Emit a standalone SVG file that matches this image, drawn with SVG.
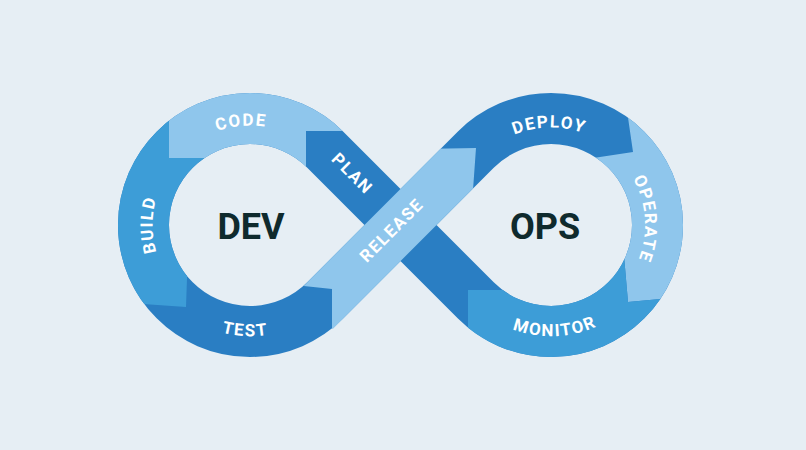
<svg xmlns="http://www.w3.org/2000/svg" xmlns:xlink="http://www.w3.org/1999/xlink" width="806" height="450" viewBox="0 0 806 450">
<defs>
<style>
.band{fill:none;stroke-width:51}
.dark{stroke:#2a7ec3}
.mid{stroke:#3d9dd7}
.light{stroke:#8fc6ec}
.lbl{font-family:Roboto,"Liberation Sans",sans-serif;font-weight:700;font-size:17px;letter-spacing:1.6px;fill:#ffffff}
.big{font-family:Roboto,"Liberation Sans",sans-serif;font-weight:700;font-size:36px;fill:#0f2a2d;text-anchor:middle}
</style>
<path id="loop" d="M325.3,149.7 A106.5,106.5 0 1 0 325.3,300.3 L475.7,149.7 A106.5,106.5 0 1 1 475.7,300.3 Z"/>
<clipPath id="cBuild"><path d="M169,100 L169,158 L215,158 L188,250 L186,307 L100,301 L100,100 Z"/></clipPath>
<clipPath id="cCode"><path d="M169,158 L169,60 L380,60 L380,131 L306,131 L306,200 L230,200 L215,158 Z"/></clipPath>
<clipPath id="cOperate"><path d="M633,152 L624,90 L720,90 L720,293.4 L628,302 L621.8,230 L590,200 L590,158.5 Z"/></clipPath>
<clipPath id="cMonitor"><path d="M468,290 L520,290 L621.8,230 L628,302 L720,293.4 L720,400 L468,400 Z"/></clipPath>
<clipPath id="cRelease"><path d="M332,289 L285,284 L420,149 L476,148 L473,190 L471,215 L345,340 L332,340 Z"/></clipPath>
<path id="tCode" d="M168.6,168 A99.5,99.5 0 0 1 320.4,154.6"/>
<path id="tBuild" d="M187.3,299.7 A97.5,97.5 0 0 1 187.3,150.3"/>
<path id="tTest" d="M161.8,292.7 A111.2,111.2 0 0 0 332,300.1"/>
<path id="tDeploy" d="M475.1,163.8 A97.5,97.5 0 0 1 624.6,161"/>
<path id="tOperate" d="M606.7,149.1 A93.8,93.8 0 0 1 616.2,292.5"/>
<path id="tMonitor" d="M468.6,299.7 A111.2,111.2 0 0 0 638.9,293.1"/>
</defs>
<rect width="806" height="450" fill="#e6eef4"/>
<g id="band-base">
<use xlink:href="#loop" class="band dark"/>
</g>
<g id="build">
<use xlink:href="#loop" class="band mid" clip-path="url(#cBuild)"/>
<text class="lbl"><textPath xlink:href="#tBuild" startOffset="50%" text-anchor="middle">BUILD</textPath></text>
</g>
<g id="code">
<use xlink:href="#loop" class="band light" clip-path="url(#cCode)"/>
<text class="lbl"><textPath xlink:href="#tCode" startOffset="50%" text-anchor="middle">CODE</textPath></text>
</g>
<g id="operate">
<use xlink:href="#loop" class="band light" clip-path="url(#cOperate)"/>
<text class="lbl"><textPath xlink:href="#tOperate" startOffset="50%" text-anchor="middle">OPERATE</textPath></text>
</g>
<g id="monitor">
<use xlink:href="#loop" class="band mid" clip-path="url(#cMonitor)"/>
<text class="lbl"><textPath xlink:href="#tMonitor" startOffset="50%" text-anchor="middle">MONITOR</textPath></text>
</g>
<g id="plan">
<text class="lbl" text-anchor="middle" transform="translate(352.5,173.5) rotate(45)" y="6">PLAN</text>
</g>
<g id="test">
<text class="lbl"><textPath xlink:href="#tTest" startOffset="50%" text-anchor="middle">TEST</textPath></text>
</g>
<g id="deploy">
<text class="lbl"><textPath xlink:href="#tDeploy" startOffset="50%" text-anchor="middle">DEPLOY</textPath></text>
</g>
<g id="release">
<path d="M314.7,310.9 L478.5,146.9" class="band light" clip-path="url(#cRelease)"/>
<text class="lbl" text-anchor="middle" transform="translate(391.5,230) rotate(-45)" y="6">RELEASE</text>
</g>
<g id="dev"><text class="big" x="251" y="239">DEV</text></g>
<g id="ops"><text class="big" x="545" y="239">OPS</text></g>
</svg>
